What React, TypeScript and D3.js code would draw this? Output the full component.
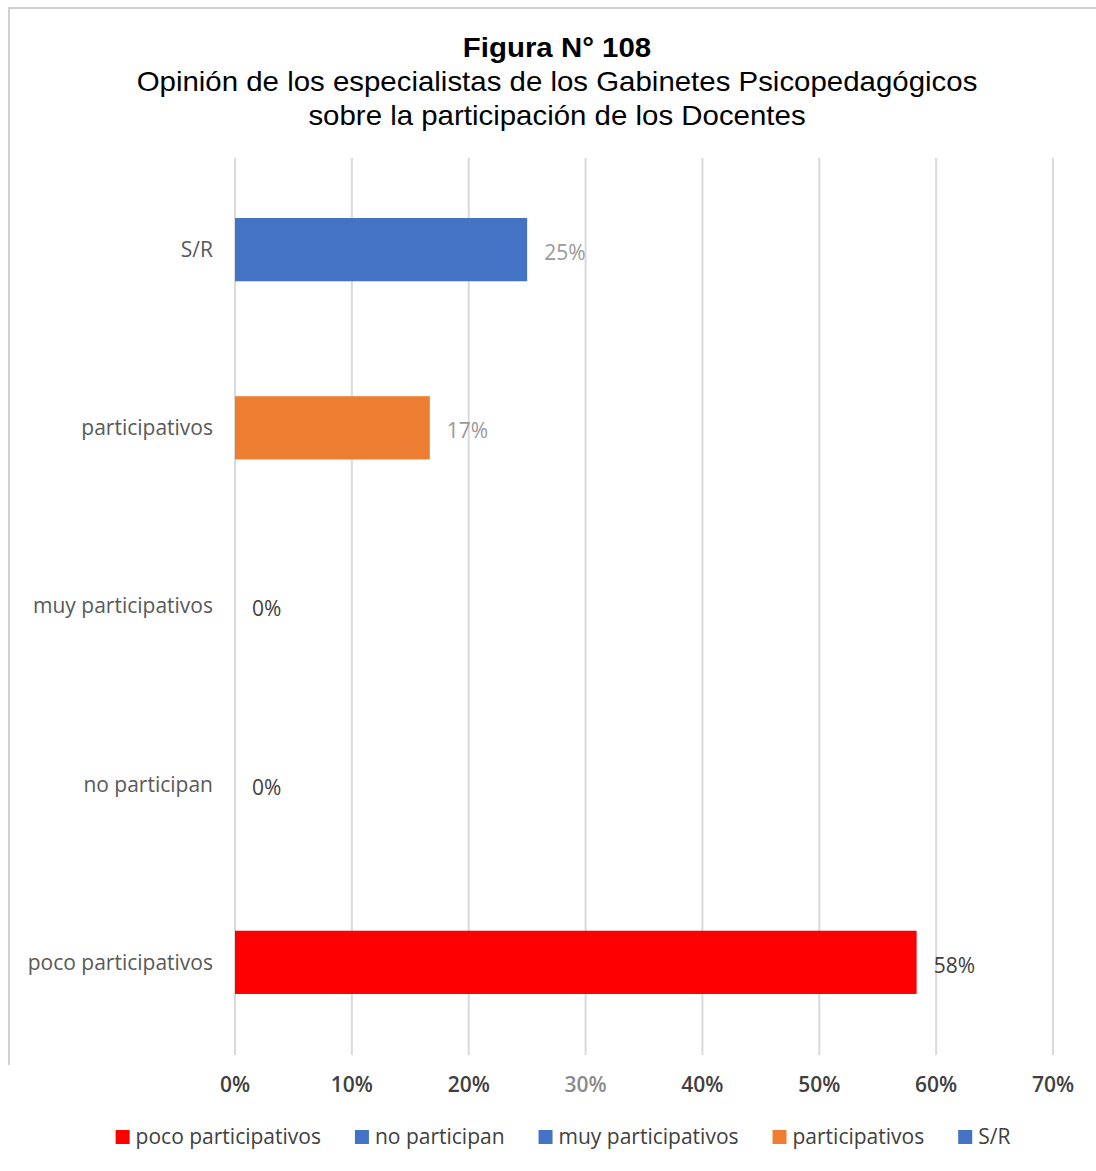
import React from "react";
import * as d3 from "d3";

const categories = ["poco participativos", "no participan", "muy participativos", "participativos", "S/R"];
const values = [0.5833, 0, 0, 0.1667, 0.25];
const colors = ["#FF0000", "#4472C4", "#4472C4", "#ED7D31", "#4472C4"];
const labelColors = ["#404040", "#404040", "#404040", "#9a9a9a", "#9a9a9a"];
const ticks = [0, 0.1, 0.2, 0.3, 0.4, 0.5, 0.6, 0.7];
const titleLines = [
  "Figura N° 108",
  "Opinión de los especialistas de los Gabinetes Psicopedagógicos",
  "sobre la participación de los Docentes",
];

const W = 1096;
const H = 1171;
const labelFont = "'Open Sans', sans-serif";
const fs = 21;

function measure(text: string, font: string): number {
  const c = document.createElement("canvas");
  const ctx = c.getContext("2d")!;
  ctx.font = font;
  return ctx.measureText(text).width;
}

export default function App() {
  const left = 235;
  const x = d3.scaleLinear().domain([0, 0.7]).range([left, 1053]);
  const y = d3
    .scaleBand<string>()
    .domain([...categories].reverse())
    .range([161, 1051])
    .paddingInner(0.645)
    .paddingOuter(0.32);
  const fmt = d3.format(".0%");
  const gridTop = 158;
  const gridBottom = 1055;

  // legend layout
  const legFont = `${fs}px 'Open Sans'`;
  const sq = 14;
  const gapSqText = 6;
  const gapItems = 34;
  const widths = categories.map((c) => measure(c, legFont));
  const itemW = widths.map((w) => sq + gapSqText + w);
  const total = d3.sum(itemW) + gapItems * (categories.length - 1);
  let cx = (116 + 1010) / 2 - total / 2;
  const legendItems = categories.map((c, i) => {
    const it = { c, i, x: cx };
    cx += itemW[i] + gapItems;
    return it;
  });
  const legY = 1137;

  return (
    <svg width={W} height={H} style={{ display: "block", position: "absolute", left: 0, top: 0 }}>
      <rect x={0} y={0} width={W} height={H} fill="#ffffff" />
      <line x1={8} y1={8} x2={W} y2={8} stroke="#d0d0d0" strokeWidth={2} />
      <line x1={9} y1={8} x2={9} y2={1065} stroke="#d0d0d0" strokeWidth={2} />
      {titleLines.map((t, i) => (
        <g key={i} transform={`translate(557,${57 + i * 34}) scale(1.09,1)`}>
          <text
            x={0}
            y={0}
            textAnchor="middle"
            fontFamily="'Liberation Sans', Arial, sans-serif"
            fontSize={27}
            fontWeight={i === 0 ? "bold" : "normal"}
            fill="#000"
          >
            {t}
          </text>
        </g>
      ))}
      {ticks.map((t) => (
        <line key={t} x1={x(t)} x2={x(t)} y1={gridTop} y2={gridBottom} stroke="#d9d9d9" strokeWidth={2} />
      ))}
      {categories.map((c, i) => (
        <rect
          key={c}
          x={x(0)}
          y={y(c)!}
          width={x(values[i]) - x(0)}
          height={y.bandwidth()}
          fill={colors[i]}
        />
      ))}
      {categories.map((c, i) => (
        <text
          key={c}
          x={213}
          y={y(c)! + y.bandwidth() / 2}
          dy="0.35em"
          textAnchor="end"
          fontFamily={labelFont}
          fontSize={fs}
          fill="#595959"
        >
          {c}
        </text>
      ))}
      {categories.map((c, i) => (
        <text
          key={c}
          x={x(values[i]) + 17}
          y={y(c)! + y.bandwidth() / 2 + 3}
          dy="0.35em"
          textAnchor="start"
          fontFamily={labelFont}
          fontSize={fs}
          fill={labelColors[i]}
        >
          {fmt(values[i])}
        </text>
      ))}
      {ticks.map((t) => (
        <text
          key={t}
          x={x(t)}
          y={1085}
          dy="0.35em"
          textAnchor="middle"
          fontFamily={labelFont}
          fontSize={fs}
          fontWeight={600}
          fill={t === 0.3 ? "#8a8a8a" : "#404040"}
        >
          {fmt(t)}
        </text>
      ))}
      {legendItems.map(({ c, i, x: lx }) => (
        <g key={c} transform={`translate(${lx},${legY})`}>
          <rect x={0} y={-sq / 2} width={sq} height={sq} fill={colors[i]} />
          <text
            x={sq + gapSqText}
            y={0}
            dy="0.35em"
            fontFamily={labelFont}
            fontSize={fs}
            fill="#404040"
          >
            {c}
          </text>
        </g>
      ))}
    </svg>
  );
}
